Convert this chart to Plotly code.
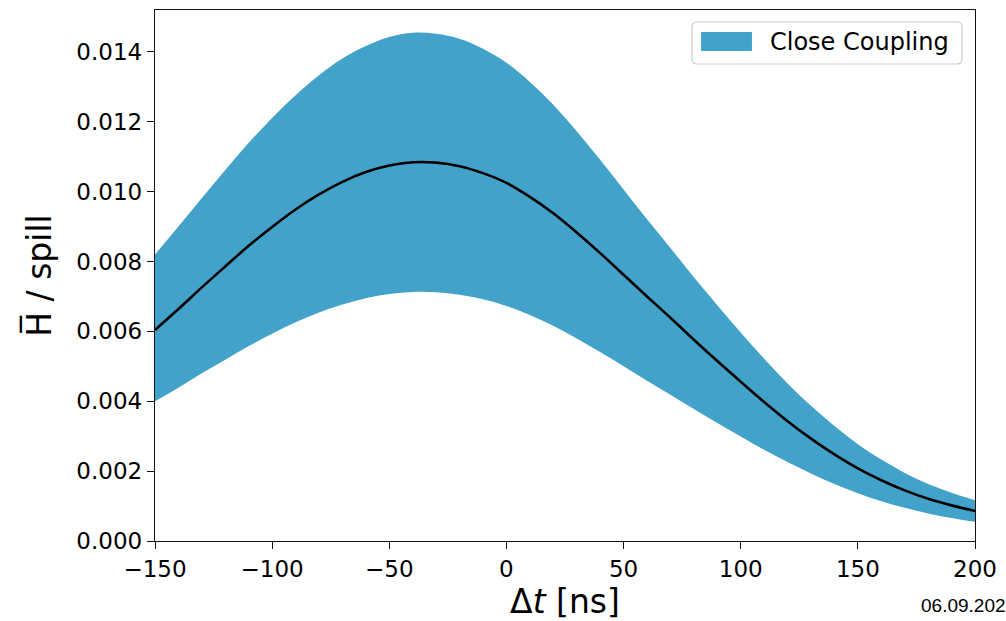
import plotly.graph_objects as go

# Data
dt_ns = [-150, -140, -130, -120, -110, -100, -90, -80, -70, -60, -50, -40, -30, -20, -10,
         0, 10, 20, 30, 40, 50, 60, 70, 80, 90, 100, 110, 120, 130, 140, 150, 160, 170,
         180, 190, 200]

h_central = [0.00604, 0.00664, 0.00726, 0.00786, 0.00845, 0.00899, 0.00949, 0.00992,
             0.01028, 0.01056, 0.01075, 0.01084, 0.01083, 0.01073, 0.01053, 0.01025,
             0.00985, 0.00938, 0.00883, 0.00824, 0.00762, 0.00700, 0.00639, 0.00576,
             0.00515, 0.00456, 0.00398, 0.00343, 0.00293, 0.00248, 0.00208, 0.00174,
             0.00145, 0.00121, 0.00102, 0.00086]

h_upper = [0.00820, 0.00900, 0.00982, 0.01062, 0.01140, 0.01211, 0.01276, 0.01333,
           0.01381, 0.01417, 0.01443, 0.01455, 0.01452, 0.01438, 0.01409, 0.01369,
           0.01314, 0.01249, 0.01173, 0.01091, 0.01006, 0.00921, 0.00839, 0.00755,
           0.00675, 0.00597, 0.00522, 0.00451, 0.00387, 0.00329, 0.00277, 0.00233,
           0.00195, 0.00163, 0.00138, 0.00117]

h_lower = [0.00400, 0.00439, 0.00480, 0.00519, 0.00558, 0.00593, 0.00626, 0.00654,
           0.00677, 0.00695, 0.00707, 0.00713, 0.00712, 0.00705, 0.00692, 0.00673,
           0.00647, 0.00616, 0.00580, 0.00541, 0.00500, 0.00459, 0.00419, 0.00378,
           0.00338, 0.00299, 0.00261, 0.00226, 0.00193, 0.00163, 0.00137, 0.00114,
           0.00095, 0.00079, 0.00066, 0.00055]

x_ticks = [-150, -100, -50, 0, 50, 100, 150, 200]
y_ticks = [0.000, 0.002, 0.004, 0.006, 0.008, 0.010, 0.012, 0.014]

series_name = "Close Coupling"
date_stamp = "06.09.2023"

band_color = "#42a2ca"
font_family = "DejaVu Sans"

fig = go.Figure()

fig.add_trace(go.Scatter(
    x=dt_ns, y=h_lower, mode="lines", line=dict(width=0, color=band_color, shape="spline"),
    showlegend=False, hoverinfo="skip"))
fig.add_trace(go.Scatter(
    x=dt_ns, y=h_upper, mode="lines", line=dict(width=0, color=band_color, shape="spline"),
    fill="tonexty", fillcolor=band_color, name=series_name, showlegend=False))
fig.add_trace(go.Scatter(
    x=dt_ns, y=h_central, mode="lines", line=dict(width=2.6, color="black", shape="spline"),
    showlegend=False))

axis_common = dict(
    showline=True, linecolor="#111111", linewidth=1.4, mirror=True,
    ticks="outside", ticklen=7, tickwidth=1.3, tickcolor="#111111",
    showgrid=False, zeroline=False,
    tickfont=dict(family=font_family, size=23, color="black"),
)

fig.update_xaxes(
    range=[-150, 200], tickvals=x_ticks,
    title=dict(text="Δ<i>t</i> [ns]", font=dict(family=font_family, size=33, color="black"),
               standoff=2),
    **axis_common)
fig.update_yaxes(
    range=[0, 0.0152], tickvals=y_ticks, tickformat=".3f",
    title=dict(text="H\u0305 / spill", font=dict(family=font_family, size=33, color="black"),
               standoff=14),
    **axis_common)

# Legend drawn as a framed box with a filled swatch (matplotlib style)
lx0, lx1, ly0, ly1, r = 0.6549, 0.9841, 0.8983, 0.9774, 0.006
rx, ry = r, r * 820 / 531
legend_path = (
    f"M{lx0 + rx},{ly0} L{lx1 - rx},{ly0} Q{lx1},{ly0} {lx1},{ly0 + ry} "
    f"L{lx1},{ly1 - ry} Q{lx1},{ly1} {lx1 - rx},{ly1} "
    f"L{lx0 + rx},{ly1} Q{lx0},{ly1} {lx0},{ly1 - ry} "
    f"L{lx0},{ly0 + ry} Q{lx0},{ly0} {lx0 + rx},{ly0} Z"
)
fig.add_shape(type="path", path=legend_path, xref="paper", yref="paper",
              line=dict(color="#cccccc", width=1.2), fillcolor="rgba(255,255,255,0.8)")
fig.add_shape(type="rect", xref="paper", yref="paper",
              x0=0.6659, x1=0.7280, y0=0.9228, y1=0.9586,
              line=dict(width=0), fillcolor=band_color)
fig.add_annotation(
    text=series_name, xref="paper", yref="paper", x=0.7475, y=0.9403,
    xanchor="left", yanchor="middle", showarrow=False,
    font=dict(family=font_family, size=24, color="black"))

fig.add_annotation(
    text=date_stamp, xref="paper", yref="paper", x=0.9317, y=-0.122,
    xanchor="left", yanchor="middle", showarrow=False,
    font=dict(family="Liberation Sans", size=19, color="black"))

fig.update_layout(
    width=1006, height=621,
    margin=dict(l=155, r=31, t=10, b=80),
    paper_bgcolor="white", plot_bgcolor="white",
    showlegend=False,
)

fig.write_html("out.html")
